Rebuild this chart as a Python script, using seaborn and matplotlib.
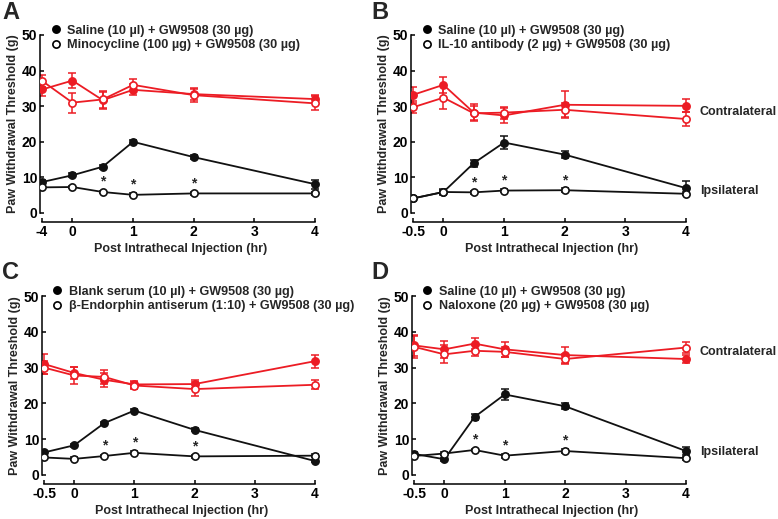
import numpy as np
import matplotlib
matplotlib.use("Agg")
import matplotlib.pyplot as plt
import seaborn as sns
from matplotlib.lines import Line2D

sns.set_style("ticks")
plt.rcParams['font.family'] = ['Liberation Sans', 'DejaVu Sans']
plt.rcParams['font.weight'] = 'bold'

RED = '#ec1c24'
BLACK = '#111111'

# time points (hr); first point is pre-injection baseline
time = [-0.5, 0, 0.5, 1, 2, 4]
star_times = [0.5, 1, 2]

# ---- panel A: minocycline ----
a_contra_ctrl = [34.7, 37.2, 31.7, 34.6, 33.4, 32.0]
a_contra_ctrl_sem = [1.7, 2.0, 2.4, 1.5, 1.6, 1.2]
a_contra_trt = [37.1, 31.0, 31.9, 36.0, 33.1, 30.8]
a_contra_trt_sem = [1.8, 2.8, 2.5, 1.6, 1.8, 2.0]
a_ipsi_ctrl = [8.7, 10.6, 13.0, 20.0, 15.7, 8.1]
a_ipsi_ctrl_sem = [0.5, 0.5, 0.5, 0.5, 0.5, 1.3]
a_ipsi_trt = [7.2, 7.3, 5.9, 5.1, 5.5, 5.5]
a_ipsi_trt_sem = [0.4, 0.4, 0.4, 0.4, 0.4, 0.4]

# ---- panel B: IL-10 antibody ----
b_contra_ctrl = [33.2, 36.0, 28.2, 27.4, 30.4, 30.1]
b_contra_ctrl_sem = [2.3, 2.3, 2.3, 2.0, 3.8, 1.8]
b_contra_trt = [29.7, 32.4, 28.0, 28.2, 29.0, 26.4]
b_contra_trt_sem = [1.7, 3.3, 2.0, 1.7, 2.0, 2.0]
b_ipsi_ctrl = [4.1, 5.9, 14.0, 19.8, 16.4, 7.0]
b_ipsi_ctrl_sem = [0.7, 0.8, 1.0, 1.7, 1.0, 2.0]
b_ipsi_trt = [4.1, 5.9, 5.8, 6.3, 6.4, 5.4]
b_ipsi_trt_sem = [0.5, 0.5, 0.4, 0.5, 0.5, 0.4]

# ---- panel C: beta-endorphin antiserum ----
c_contra_ctrl = [31.0, 28.5, 26.6, 25.3, 25.4, 31.8]
c_contra_ctrl_sem = [2.7, 1.8, 2.0, 1.0, 1.2, 1.8]
c_contra_trt = [30.0, 27.8, 27.4, 25.0, 24.0, 25.2]
c_contra_trt_sem = [1.8, 2.3, 2.0, 1.0, 2.0, 1.3]
c_ipsi_ctrl = [6.3, 8.3, 14.5, 18.0, 12.6, 3.9]
c_ipsi_ctrl_sem = [0.4, 0.4, 0.4, 0.4, 0.4, 0.4]
c_ipsi_trt = [4.9, 4.5, 5.3, 6.2, 5.2, 5.4]
c_ipsi_trt_sem = [0.4, 0.4, 0.4, 0.4, 0.4, 0.4]

# ---- panel D: naloxone ----
d_contra_ctrl = [36.2, 35.1, 36.7, 35.1, 33.5, 32.4]
d_contra_ctrl_sem = [3.0, 2.3, 1.5, 2.0, 2.2, 1.2]
d_contra_trt = [35.8, 33.7, 34.7, 34.4, 32.4, 35.6]
d_contra_trt_sem = [3.0, 2.5, 1.5, 1.3, 1.5, 1.6]
d_ipsi_ctrl = [5.9, 4.4, 16.2, 22.5, 19.2, 6.7]
d_ipsi_ctrl_sem = [0.4, 0.4, 0.8, 1.5, 0.9, 1.0]
d_ipsi_trt = [5.3, 6.0, 7.0, 5.4, 6.7, 4.7]
d_ipsi_trt_sem = [0.4, 0.4, 0.4, 0.6, 0.6, 0.4]

xticks = [-0.5, 0, 1, 2, 3, 4]
a_xticklabels = ['-4', '0', '1', '2', '3', '4']
xticklabels = ['-0.5', '0', '1', '2', '3', '4']

labels_a = ['Saline (10 µl) + GW9508 (30 µg)', 'Minocycline (100 µg) + GW9508 (30 µg)']
labels_b = ['Saline (10 µl) + GW9508 (30 µg)', 'IL-10 antibody (2 µg) + GW9508 (30 µg)']
labels_c = ['Blank serum (10 µl) + GW9508 (30 µg)', 'β-Endorphin antiserum (1:10) + GW9508 (30 µg)']
labels_d = ['Saline (10 µl) + GW9508 (30 µg)', 'Naloxone (20 µg) + GW9508 (30 µg)']

fig = plt.figure(figsize=(7.78, 5.19), dpi=100)

W, H = 778, 519


def make_axes(left_px, top_px, bottom_px, width_px):
    return fig.add_axes([left_px / W, (H - bottom_px) / H,
                         width_px / W, (bottom_px - top_px) / H])


def draw_series(ax, y, err, color, filled):
    ax.errorbar(time, y, yerr=err, fmt='none', ecolor=color, elinewidth=1.1,
                capsize=2.6, capthick=1.1, zorder=2)
    sns.lineplot(x=time, y=y, ax=ax, color=color, lw=1.3, marker='o',
                 markersize=5.2, markeredgewidth=1.2, markeredgecolor=color,
                 markerfacecolor=color if filled else 'white', zorder=3)


def panel(ax, series, labels, ticklabels, side_labels=None):
    for y, err, color, filled in series:
        draw_series(ax, y, err, color, filled)
    ipsi_trt = series[3][0]
    for t in star_times:
        v = ipsi_trt[time.index(t)]
        ax.text(t, v + 0.9, '*', ha='center', va='bottom', fontsize=10, fontweight='bold')
    ax.set_xlim(-0.535, 4.1)
    ax.set_ylim(0, 50)
    ax.set_yticks([0, 10, 20, 30, 40, 50])
    ax.set_xticks(xticks)
    ax.set_xticklabels(ticklabels)
    ax.spines['top'].set_visible(False)
    ax.spines['right'].set_visible(False)
    ax.spines['bottom'].set_position(('outward', 6.5))
    ax.spines['bottom'].set_bounds(-0.5, 4)
    ax.spines['left'].set_bounds(0, 50)
    for s in ['left', 'bottom']:
        ax.spines[s].set_linewidth(1.1)
        ax.spines[s].set_color('black')
    ax.tick_params(direction='in', length=3, width=1.1, labelsize=10, pad=2,
                   colors='black')
    for lab in ax.get_xticklabels() + ax.get_yticklabels():
        lab.set_fontweight('bold')
    ax.set_xlabel('Post Intrathecal Injection (hr)', fontsize=9, fontweight='bold', labelpad=3)
    ax.set_ylabel('Paw Withdrawal Threshold (g)', fontsize=9, fontweight='bold', labelpad=2)
    ax.grid(False)
    handles = [Line2D([], [], ls='none', marker='o', color='black', markersize=5.2,
                      markerfacecolor='black', markeredgewidth=1.2),
               Line2D([], [], ls='none', marker='o', color='black', markersize=5.2,
                      markerfacecolor='white', markeredgewidth=1.2)]
    ax.legend(handles, labels, loc='upper left', bbox_to_anchor=(0.035, 1.057),
              frameon=False, handlelength=0.9, handletextpad=0.45,
              labelspacing=0.2, borderpad=0, borderaxespad=0,
              prop={'weight': 'bold', 'size': 9.1})
    if side_labels:
        for txt, yv in side_labels:
            ax.text(4.23, yv, txt, ha='left', va='center', fontsize=9,
                    fontweight='bold', clip_on=False)


ax_a = make_axes(40, 35, 213, 281)
ax_b = make_axes(411, 35, 213, 281)
ax_c = make_axes(42, 296, 475, 279)
ax_d = make_axes(412, 296, 475, 280)

panel(ax_a, [(a_contra_ctrl, a_contra_ctrl_sem, RED, True),
             (a_contra_trt, a_contra_trt_sem, RED, False),
             (a_ipsi_ctrl, a_ipsi_ctrl_sem, BLACK, True),
             (a_ipsi_trt, a_ipsi_trt_sem, BLACK, False)],
      labels_a, a_xticklabels)
panel(ax_b, [(b_contra_ctrl, b_contra_ctrl_sem, RED, True),
             (b_contra_trt, b_contra_trt_sem, RED, False),
             (b_ipsi_ctrl, b_ipsi_ctrl_sem, BLACK, True),
             (b_ipsi_trt, b_ipsi_trt_sem, BLACK, False)],
      labels_b, xticklabels, [('Contralateral', 28.4), ('Ipsilateral', 6.2)])
panel(ax_c, [(c_contra_ctrl, c_contra_ctrl_sem, RED, True),
             (c_contra_trt, c_contra_trt_sem, RED, False),
             (c_ipsi_ctrl, c_ipsi_ctrl_sem, BLACK, True),
             (c_ipsi_trt, c_ipsi_trt_sem, BLACK, False)],
      labels_c, xticklabels)
panel(ax_d, [(d_contra_ctrl, d_contra_ctrl_sem, RED, True),
             (d_contra_trt, d_contra_trt_sem, RED, False),
             (d_ipsi_ctrl, d_ipsi_ctrl_sem, BLACK, True),
             (d_ipsi_trt, d_ipsi_trt_sem, BLACK, False)],
      labels_d, xticklabels, [('Contralateral', 34.4), ('Ipsilateral', 6.5)])

for letter, xp, yp in [('A', 2, 1), ('B', 371, 1), ('C', 2, 261), ('D', 371, 261)]:
    fig.text(xp / W, 1 - yp / H, letter, fontsize=17, fontweight='bold',
             ha='left', va='top')

fig.savefig('out.png', dpi=100)
